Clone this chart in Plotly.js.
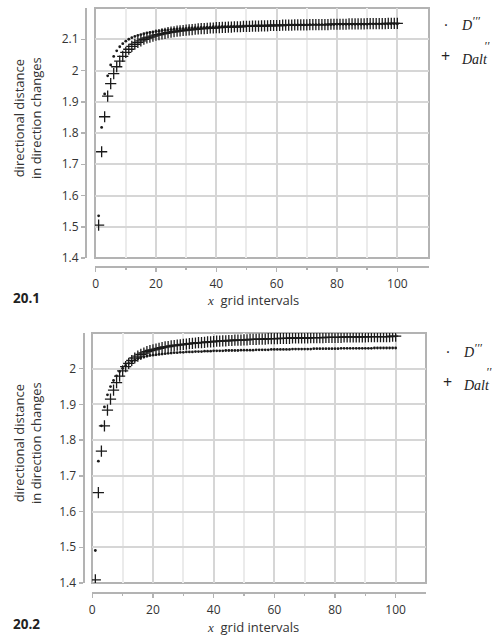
<!DOCTYPE html>
<html>
<head>
<meta charset="utf-8">
<script src="https://cdn.plot.ly/plotly-3.0.1.min.js"></script>
<style>html,body{margin:0;padding:0;background:#fff;}#chart{width:493px;height:639px;}</style>
</head>
<body>
<div id="chart"></div>
<script>
// grid intervals x = 1..100
const gridIntervals = [1,2,3,4,5,6,7,8,9,10,11,12,13,14,15,16,17,18,19,20,21,22,23,24,25,26,27,28,29,30,31,32,33,34,35,36,37,38,39,40,41,42,43,44,45,46,47,48,49,50,51,52,53,54,55,56,57,58,59,60,61,62,63,64,65,66,67,68,69,70,71,72,73,74,75,76,77,78,79,80,81,82,83,84,85,86,87,88,89,90,91,92,93,94,95,96,97,98,99,100];

// Panel 20.1
const top_D3 = [1.535,1.818,1.925,1.983,2.018,2.045,2.063,2.076,2.086,2.094,
2.100,2.105,2.109,2.112,2.115,2.118,2.120,2.122,2.123,2.125,
2.126,2.128,2.129,2.130,2.131,2.132,2.133,2.134,2.134,2.135,
2.136,2.136,2.137,2.137,2.138,2.138,2.139,2.139,2.140,2.140,
2.140,2.141,2.141,2.141,2.142,2.142,2.142,2.142,2.143,2.143,
2.143,2.143,2.144,2.144,2.144,2.144,2.144,2.145,2.145,2.145,
2.145,2.145,2.145,2.146,2.146,2.146,2.146,2.146,2.146,2.146,
2.147,2.147,2.147,2.147,2.147,2.147,2.147,2.147,2.147,2.148,
2.148,2.148,2.148,2.148,2.148,2.148,2.148,2.148,2.148,2.148,
2.149,2.149,2.149,2.149,2.149,2.149,2.149,2.149,2.149,2.149];
const top_Dalt = [1.505,1.740,1.852,1.918,1.958,1.990,2.012,2.030,2.045,2.058,
2.068,2.077,2.084,2.090,2.095,2.100,2.104,2.107,2.110,2.113,
2.115,2.117,2.119,2.121,2.123,2.124,2.126,2.127,2.128,2.129,
2.130,2.131,2.132,2.133,2.134,2.134,2.135,2.136,2.136,2.137,
2.137,2.138,2.138,2.139,2.139,2.140,2.140,2.140,2.141,2.141,
2.141,2.142,2.142,2.142,2.143,2.143,2.143,2.144,2.144,2.144,
2.144,2.145,2.145,2.145,2.145,2.146,2.146,2.146,2.146,2.146,
2.147,2.147,2.147,2.147,2.147,2.147,2.147,2.148,2.148,2.148,
2.148,2.148,2.148,2.149,2.149,2.149,2.149,2.149,2.149,2.150,
2.150,2.150,2.150,2.150,2.150,2.150,2.151,2.151,2.151,2.151];

// Panel 20.2
const bot_D3 = [1.491,1.741,1.840,1.893,1.927,1.950,1.967,1.980,1.992,2.001,
2.009,2.015,2.020,2.024,2.028,2.031,2.033,2.035,2.037,2.038,
2.039,2.040,2.041,2.042,2.043,2.044,2.045,2.045,2.046,2.046,
2.047,2.047,2.047,2.048,2.048,2.048,2.049,2.049,2.049,2.050,
2.050,2.050,2.050,2.051,2.051,2.051,2.051,2.051,2.052,2.052,
2.052,2.052,2.052,2.053,2.053,2.053,2.053,2.053,2.054,2.054,
2.054,2.054,2.054,2.054,2.054,2.055,2.055,2.055,2.055,2.055,
2.055,2.055,2.056,2.056,2.056,2.056,2.056,2.056,2.056,2.056,
2.056,2.057,2.057,2.057,2.057,2.057,2.057,2.057,2.057,2.057,
2.057,2.057,2.058,2.058,2.058,2.058,2.058,2.058,2.058,2.058];
const bot_Dalt = [1.409,1.653,1.769,1.840,1.884,1.915,1.940,1.961,1.979,1.994,
2.006,2.015,2.023,2.030,2.035,2.040,2.044,2.048,2.051,2.053,
2.055,2.057,2.059,2.061,2.062,2.064,2.065,2.066,2.067,2.068,
2.069,2.070,2.071,2.072,2.073,2.073,2.074,2.075,2.075,2.076,
2.077,2.077,2.078,2.078,2.079,2.079,2.080,2.080,2.080,2.081,
2.081,2.082,2.082,2.082,2.083,2.083,2.083,2.084,2.084,2.084,
2.084,2.085,2.085,2.085,2.085,2.086,2.086,2.086,2.086,2.086,
2.086,2.087,2.087,2.087,2.087,2.087,2.088,2.088,2.088,2.088,
2.088,2.088,2.089,2.089,2.089,2.089,2.089,2.089,2.089,2.089,
2.090,2.090,2.090,2.090,2.090,2.090,2.090,2.090,2.091,2.091];

const xTickVals = [0,20,40,60,80,100];
const yTickTop = [1.4,1.5,1.6,1.7,1.8,1.9,2.0,2.1];
const yTickTopText = ['1.4','1.5','1.6','1.7','1.8','1.9','2','2.1'];
const yTickBot = [1.4,1.5,1.6,1.7,1.8,1.9,2.0];
const yTickBotText = ['1.4','1.5','1.6','1.7','1.8','1.9','2'];

const W = 493, H = 639;
const px = v => v / W;
const py = v => (H - v) / H;

const dotMarker = {symbol:'circle', size:2.8, color:'#1a1a1a', line:{width:0}};
const plusMarker = {symbol:'cross-thin', size:8, color:'#1a1a1a', line:{width:1.3, color:'#1a1a1a'}};

const traces = [
  {x:gridIntervals, y:top_D3, xaxis:'x', yaxis:'y', mode:'markers', marker:dotMarker, name:"D'''", showlegend:false, hoverinfo:'skip'},
  {x:gridIntervals, y:top_Dalt, xaxis:'x', yaxis:'y', mode:'markers', marker:plusMarker, name:"Dalt''", showlegend:false, hoverinfo:'skip'},
  {x:gridIntervals, y:bot_D3, xaxis:'x2', yaxis:'y2', mode:'markers', marker:dotMarker, name:"D'''", showlegend:false, hoverinfo:'skip'},
  {x:gridIntervals, y:bot_Dalt, xaxis:'x2', yaxis:'y2', mode:'markers', marker:plusMarker, name:"Dalt''", showlegend:false, hoverinfo:'skip'}
];

const tickFont = {family:'Open Sans, sans-serif', size:12, color:'#333'};
const lineCol = '#b3b3b3';

function xAxis(domain, pos, range) {
  return {
    domain: domain, anchor:'free', position: pos, range: range,
    tickvals: xTickVals, ticks:'outside', ticklen:4, tickwidth:1.5, tickcolor:lineCol,
    showline:true, linecolor:lineCol, linewidth:2, ticklabelstandoff:2,
    showgrid:true, gridcolor:'#d6d6d6', gridwidth:2, zeroline:false,
    minor:{tickvals:[10,30,50,70,90], ticks:'outside', ticklen:2, tickcolor:lineCol, showgrid:true, gridcolor:'#ebebeb', gridwidth:2},
    tickfont: tickFont, fixedrange:true
  };
}
function yAxis(domain, pos, range, tv, tt) {
  return {
    domain: domain, anchor:'free', position: pos, range: range,
    tickvals: tv, ticktext: tt, ticks:'outside', ticklen:4, tickwidth:1.5, tickcolor:lineCol,
    showline:true, linecolor:lineCol, linewidth:2,
    showgrid:true, gridcolor:'#d6d6d6', gridwidth:2, zeroline:false,
    tickfont: tickFont, fixedrange:true
  };
}

const topXD = [px(95), px(429)], topYD = [py(258), py(8)];
const botXD = [px(92), px(426)], botYD = [py(583), py(333)];

const legendFont = {family:'Liberation Serif, serif', size:14, color:'#222'};
const primeFont = {family:'Liberation Serif, serif', size:12, color:'#222'};
const symFont = {family:'Open Sans, sans-serif', size:16, color:'#222'};
const dotFont = {family:'Open Sans, sans-serif', size:15, color:'#222'};
const titleFont = {family:'Open Sans, sans-serif', size:13, color:'#333'};

function ann(x, y, text, font, extra) {
  return Object.assign({xref:'paper', yref:'paper', x:px(x), y:py(y), text:text, showarrow:false, font:font, xanchor:'left', yanchor:'middle'}, extra||{});
}

const annotations = [
  // legend, panel 20.1
  ann(442, 24, '·', dotFont),
  ann(459, 25, '<i>D</i>', legendFont),
  ann(470, 21, '<i>′′′</i>', primeFont),
  ann(439, 56, '+', symFont),
  ann(459, 59, '<i>Dalt</i>', legendFont),
  ann(482, 46, '<i>′′</i>', primeFont),
  // legend, panel 20.2
  ann(444, 351, '·', dotFont),
  ann(461, 352, '<i>D</i>', legendFont),
  ann(472, 348, '<i>′′′</i>', primeFont),
  ann(441, 382, '+', symFont),
  ann(461, 385, '<i>Dalt</i>', legendFont),
  ann(484, 372, '<i>′′</i>', primeFont),
  // y titles
  ann(27, 118, 'directional distance<br>in direction changes', titleFont, {xanchor:'center', textangle:-90}),
  ann(27, 443, 'directional distance<br>in direction changes', titleFont, {xanchor:'center', textangle:-90}),
  // x titles
  ann(253, 300, '<i><span style="font-family:Liberation Serif">x</span></i>  grid intervals', titleFont, {xanchor:'center'}),
  ann(253, 627, '<i><span style="font-family:Liberation Serif">x</span></i>  grid intervals', titleFont, {xanchor:'center'}),
  // panel labels
  ann(11, 298, '<b>20.1</b>', {family:'Open Sans, sans-serif', size:13.5, color:'#222'}),
  ann(11, 624, '<b>20.2</b>', {family:'Open Sans, sans-serif', size:13.5, color:'#222'})
];

const shapes = [
  {type:'rect', xref:'x domain', yref:'y domain', x0:0, x1:1, y0:0, y1:1, line:{color:lineCol, width:2}, layer:'below'},
  {type:'rect', xref:'x2 domain', yref:'y2 domain', x0:0, x1:1, y0:0, y1:1, line:{color:lineCol, width:2}, layer:'below'}
];

const layout = {
  width:W, height:H, margin:{l:0, r:0, t:0, b:0},
  paper_bgcolor:'#fff', plot_bgcolor:'#fff', showlegend:false,
  xaxis: xAxis(topXD, py(266.5), [-0.2, 110.5]),
  yaxis: yAxis(topYD, px(86), [1.4, 2.2], yTickTop, yTickTopText),
  xaxis2: xAxis(botXD, py(593), [-0.1, 110]),
  yaxis2: yAxis(botYD, px(83.5), [1.4, 2.1], yTickBot, yTickBotText),
  annotations: annotations,
  shapes: shapes
};

Plotly.newPlot('chart', traces, layout, {displayModeBar:false, staticPlot:true});
</script>
</body>
</html>
